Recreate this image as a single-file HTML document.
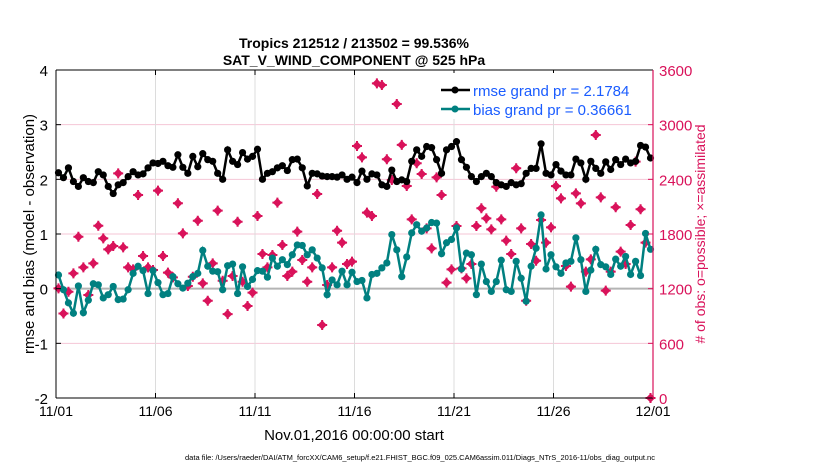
<!DOCTYPE html>
<html><head><meta charset="utf-8"><style>
body{margin:0;background:#fff;}
svg text{font-family:"Liberation Sans",sans-serif;}
</style></head><body>
<svg id="chart" width="830" height="470" xmlns="http://www.w3.org/2000/svg">
<g id="grid"></g>
<g id="series"></g>
<g id="axes"></g>
<text x="354" y="48" text-anchor="middle" font-size="14" font-weight="bold">Tropics 212512 / 213502 = 99.536%</text>
<text x="354" y="65" text-anchor="middle" font-size="14" font-weight="bold">SAT_V_WIND_COMPONENT @ 525 hPa</text>
<text transform="translate(34,234) rotate(-90)" text-anchor="middle" font-size="15">rmse and bias (model - observation)</text>
<text transform="translate(705,234) rotate(-90)" text-anchor="middle" font-size="14" fill="#d9125a"># of obs: o=possible; ×=assimilated</text>
<text x="354" y="440" text-anchor="middle" font-size="15">Nov.01,2016 00:00:00 start</text>
<text x="420" y="460" text-anchor="middle" font-size="7.5">data file: /Users/raeder/DAI/ATM_forcXX/CAM6_setup/f.e21.FHIST_BGC.f09_025.CAM6assim.011/Diags_NTrS_2016-11/obs_diag_output.nc</text>
<g id="legend"></g>
</svg>
<script>
const rmse=[2.12,2.03,2.21,1.96,1.87,2.03,1.96,1.94,2.14,2.08,1.87,1.74,1.9,1.94,2.05,2.14,2.08,2.1,2.21,2.3,2.29,2.33,2.25,2.22,2.45,2.22,2.11,2.42,2.23,2.47,2.36,2.33,2.11,2.0,2.54,2.33,2.27,2.49,2.37,2.42,2.55,
2.0,2.11,2.14,2.21,2.25,2.16,2.36,2.37,2.21,1.88,2.11,2.1,2.06,2.05,2.05,2.04,2.08,2.0,2.04,1.94,2.15,2.0,2.1,2.08,1.9,1.87,2.17,1.96,1.99,1.96,2.33,2.54,2.42,2.6,2.58,2.36,2.11,2.54,2.6,2.69,
2.36,2.22,2.05,1.96,2.05,2.11,2.05,1.94,1.9,1.87,1.94,1.9,1.92,2.11,2.2,2.2,2.65,2.11,2.08,2.27,2.15,2.08,2.08,2.37,2.3,2.0,2.33,2.2,2.11,2.32,2.18,2.36,2.27,2.37,2.3,2.33,2.62,2.59,2.39];
const bias=[0.25,-0.02,-0.26,-0.45,0.05,-0.44,-0.21,0.09,0.07,-0.17,-0.11,0.04,-0.2,-0.19,-0.02,0.28,0.41,0.33,-0.09,0.33,0.11,-0.11,-0.09,0.22,0.09,0.01,0.1,0.22,0.28,0.7,0.41,0.32,0.31,-0.02,0.42,0.45,-0.09,0.4,0.04,0.17,0.33,
0.32,0.21,0.56,0.41,0.53,0.44,0.62,0.8,0.79,0.62,0.71,0.56,0.38,-0.11,0.16,0.07,0.32,0.07,0.3,0.13,0.15,-0.17,0.26,0.28,0.38,0.47,0.99,0.71,0.22,0.58,1.02,1.17,1.05,1.11,1.21,1.2,0.64,0.84,0.9,1.11,
0.36,0.65,0.62,-0.11,0.45,0.13,-0.05,0.13,0.52,-0.02,-0.05,0.5,0.19,-0.23,0.41,0.74,1.35,0.36,0.62,0.4,0.28,0.47,0.5,0.93,0.53,-0.05,0.34,0.72,0.44,0.4,0.26,0.54,0.41,0.59,0.26,0.5,0.24,1.01,0.72];
const obs=[1203,927,1166,1368,1770,1434,1130,1478,1891,1752,1631,1668,2466,1653,1434,1412,2228,1558,1434,1405,2276,1558,1376,1324,2137,1807,1229,1331,1946,1258,1068,1478,2056,1287,921,1339,1935,1276,1010,1156,1998,
1581,1434,1570,2144,1679,1339,1387,1826,1515,1276,1434,2239,801,1240,1434,1836,1705,1471,1497,2766,2641,2034,1998,3453,3435,2620,2393,3227,2778,2327,1961,2576,2459,1862,1642,2422,2228,1266,1412,1888,
1423,1313,1471,1888,2082,1972,1851,2319,1961,1727,1580,2521,1862,1068,1690,1507,1954,1705,1873,2326,2191,1449,1222,2246,2136,1387,1522,2887,2202,1178,1387,2093,1606,1471,1899,2594,2071,1705,0];
const xTickLabels=["11/01","11/06","11/11","11/16","11/21","11/26","12/01"];
const yTicks=[-2,-1,0,1,2,3,4];
const y2Ticks=[0,600,1200,1800,2400,3000,3600];

const NS="http://www.w3.org/2000/svg";
const X0=56,X1=653,Y0=70,Y1=398;
const xs=d=>X0+d/30*(X1-X0);
const ys=v=>Y1-(v+2)/6*(Y1-Y0);
const y2s=c=>Y1-c/3600*(Y1-Y0);
const tOf=(i,n)=>n===120?i*0.25+0.125:i*30/(n-1);
function mk(tag,at,parent){const e=document.createElementNS(NS,tag);for(const k in at)e.setAttribute(k,at[k]);parent.appendChild(e);return e;}
const G=document.getElementById('grid'),S=document.getElementById('series'),A=document.getElementById('axes'),L=document.getElementById('legend');
yTicks.forEach(v=>{const l=mk('line',{x1:X0,x2:X1,y1:ys(v),y2:ys(v),stroke:'#f5c6d6','stroke-width':1},G);

});
xTickLabels.forEach((s,i)=>{const x=xs(i*5);const l=mk('line',{x1:x,x2:x,y1:Y0,y2:Y1,stroke:'#dcdcdc','stroke-width':1},G);


const t=mk('text',{x:x,y:Y1+18,'text-anchor':'middle','font-size':14},A);t.textContent=s;


mk('line',{x1:x,x2:x,y1:Y1,y2:Y1-5,stroke:'#000'},A);mk('line',{x1:x,x2:x,y1:Y0,y2:Y0+5,stroke:'#000'},A);});
const z=mk('line',{x1:X0,x2:X1,y1:ys(0),y2:ys(0),stroke:'#b4b4b4','stroke-width':2},G);


yTicks.forEach(v=>{const t=mk('text',{x:X0-8,y:ys(v)+6,'text-anchor':'end','font-size':15},A);t.textContent=v;


mk('line',{x1:X0,x2:X0+5,y1:ys(v),y2:ys(v),stroke:'#000'},A);});
y2Ticks.forEach(c=>{const t=mk('text',{x:X1+6,y:y2s(c)+6,'font-size':15,fill:'#d9125a'},A);t.textContent=c;


mk('line',{x1:X1-5,x2:X1,y1:y2s(c),y2:y2s(c),stroke:'#d9125a'},A);});
mk('line',{x1:X0,x2:X1,y1:Y0,y2:Y0,stroke:'#000'},A);
mk('line',{x1:X0,x2:X1,y1:Y1,y2:Y1,stroke:'#000'},A);
mk('line',{x1:X0,x2:X0,y1:Y0,y2:Y1,stroke:'#000'},A);
mk('line',{x1:X1,x2:X1,y1:Y0,y2:Y1,stroke:'#d9125a','stroke-width':1.2},A);
obs.forEach((c,i)=>{const x=xs(tOf(i,obs.length)),y=y2s(c);
const g=mk('g',{},S);


mk('rect',{x:x-3.3,y:y-3.3,width:6.6,height:6.6,fill:'#d9125a',transform:`rotate(45 ${x} ${y})`},g);
mk('path',{d:`M${x-5} ${y}H${x+5}M${x} ${y-5}V${y+5}`,stroke:'#d9125a','stroke-width':2},g);});
function line(arr,col,name){const pts=arr.map((v,i)=>[xs(tOf(i,arr.length)),ys(v)]);
const p=mk('polyline',{points:pts.map(p=>p.join(',')).join(' '),fill:'none',stroke:col,'stroke-width':2.5},S);


pts.forEach(q=>{const c=mk('circle',{cx:q[0],cy:q[1],r:3.6,fill:col},S);

});}
line(bias,'#008080','bias');
line(rmse,'#000','rmse');
// legend on top
mk('rect',{x:437,y:73,width:210,height:46,fill:'#fff'},L);
mk('line',{x1:441,y1:90,x2:470,y2:90,stroke:'#000','stroke-width':2.5},L);
mk('circle',{cx:455,cy:90,r:3.5,fill:'#000'},L);
const t1=mk('text',{x:473,y:96,'font-size':15,fill:'#1a5cff'},L);t1.textContent='rmse grand pr = 2.1784';


mk('line',{x1:441,y1:109,x2:470,y2:109,stroke:'#008080','stroke-width':2.5},L);
mk('circle',{cx:455,cy:109,r:3.5,fill:'#008080'},L);
const t2=mk('text',{x:473,y:115,'font-size':15,fill:'#1a5cff'},L);t2.textContent='bias grand pr = 0.36661';


</script>
</body></html>
